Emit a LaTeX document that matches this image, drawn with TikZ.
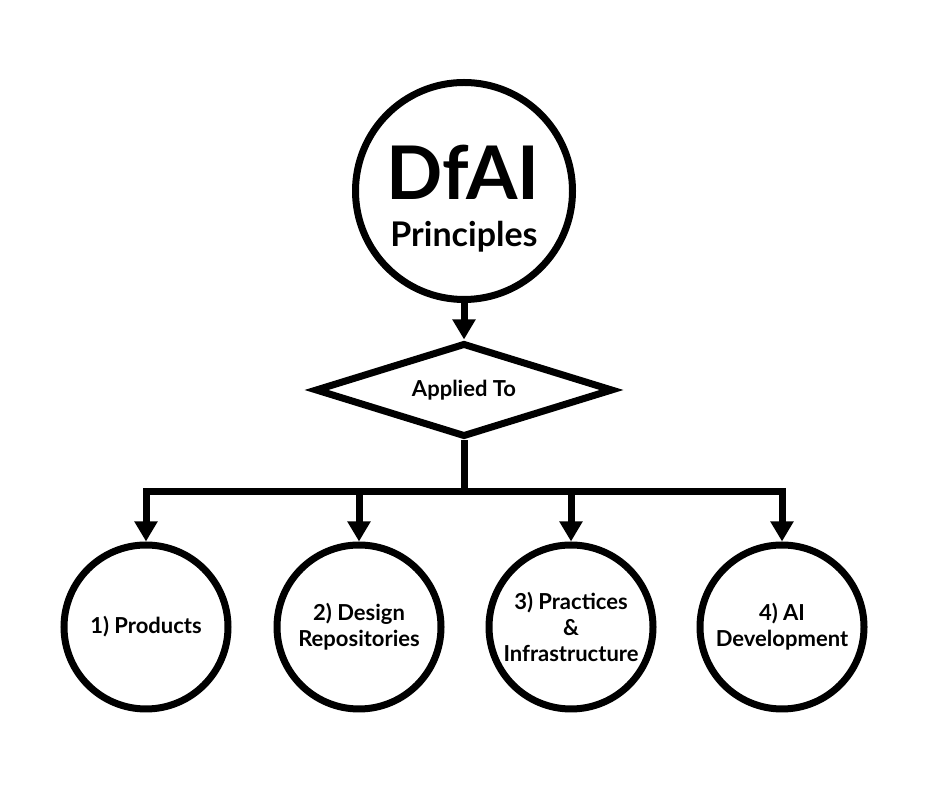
\documentclass[tikz,border=0pt]{standalone}
\usepackage{fontspec}
\setmainfont{Lato}
\usetikzlibrary{shapes.geometric,arrows.meta}

\begin{document}
\begin{tikzpicture}[x=1pt,y=1pt,
	ring/.style={draw,circle,line width=7pt,inner sep=0pt,align=center,font=\bfseries\fontsize{22}{26}\selectfont},
	decision/.style={draw,diamond,line width=7pt,inner sep=0pt,aspect=3.2,minimum width=298pt,minimum height=94pt,font=\bfseries\fontsize{22}{26}\selectfont},
	flow/.style={line width=7pt,-{Triangle[width=22pt,length=20pt]}}]
				\useasboundingbox (0,0) rectangle (934,800);
				\node[ring,minimum size=217pt] (dfai) at (464,609) {};
				\node[anchor=base,font=\bfseries\fontsize{74}{74}\selectfont] (dfaititle) at (463,600) {DfAI};
				\node[anchor=base,font=\bfseries\fontsize{34}{34}\selectfont] (dfaisub) at (464,553) {Principles};
				\node[decision] (apply) at (464,410) {Applied To};
				\coordinate (bus) at (464,308);
				\node[ring,minimum size=164pt] (prod) at (146,173) {1) Products};
				\node[ring,minimum size=164pt] (repo) at (359,173) {2) Design\\Repositories};
				\node[ring,minimum size=164pt] (infra) at (571,173) {3) Practices\\\&\\Infrastructure};
				\node[ring,minimum size=164pt] (aidev) at (782,173) {4) AI\\Development};
				\draw[flow] (dfai) -- (apply);
				\draw[line width=7pt] (apply.south) -- (bus);
				\foreach \n in {prod,repo,infra,aidev}
				\draw[flow] (bus) -| (\n.north);
			\end{tikzpicture}
\end{document}
